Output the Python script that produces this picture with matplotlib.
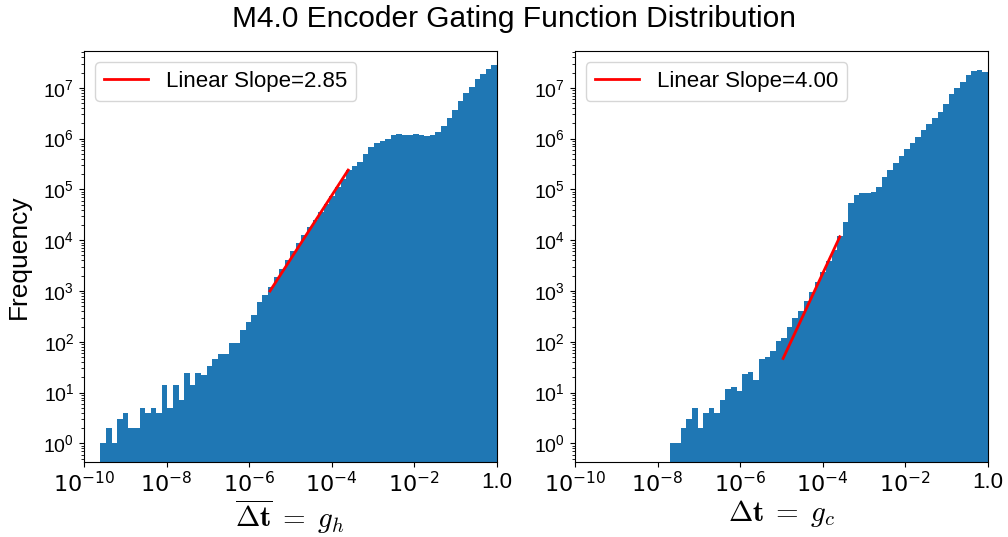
import numpy as np
import matplotlib
matplotlib.use("Agg")
import matplotlib.pyplot as plt

plt.rcParams['font.family'] = ['Liberation Sans', 'DejaVu Sans']
plt.rcParams['mathtext.fontset'] = 'dejavusans'

# shared log-spaced bin edges (71 bins from 10^-9.6 to 1)
bin_edges = np.logspace(-9.6, 0, 72)

# counts per bin
counts_h = [1, 2, 1, 3, 4, 2, 2, 5, 4, 5,
            4, 14, 5, 14, 7, 24, 14, 24, 22, 33,
            46, 58, 58, 93, 93, 172, 240, 340, 610, 845,
            1200, 1870, 2770, 4050, 6200, 8700, 12600, 17800, 25000, 36500,
            50500, 74000, 110000, 160000, 240000, 288000, 350000, 490000, 675000, 805000,
            890000, 975000, 1170000, 1230000, 1180000, 1200000, 1260000, 1200000, 1140000, 1170000,
            1320000, 1740000, 2500000, 3600000, 5600000, 7800000, 10200000, 14800000, 18600000, 23000000,
            28000000]

counts_c = [0, 0, 0, 0, 0, 0, 0, 0, 0, 0,
            0, 0, 0, 0, 1, 1, 2, 3, 5, 2,
            4, 5, 4, 7, 12, 13, 11, 23, 26, 18,
            45, 50, 66, 103, 120, 198, 288, 400, 630, 935,
            1515, 2400, 3870, 6400, 12000, 22700, 54600, 77000, 84500, 85000,
            87000, 112000, 178000, 240000, 325000, 455000, 620000, 810000, 1090000, 1450000,
            1920000, 2500000, 3400000, 4900000, 7400000, 9800000, 13200000, 17800000, 21000000, 22000000,
            20500000]

# fitted line endpoints
fit_h_x = [3.2e-6, 2.5e-4]
fit_h_y = [1.0e3, 2.4e5]
fit_c_x = [1.1e-5, 2.6e-4]
fit_c_y = [47, 11700]

slope_h = 2.85
slope_c = 4.00

xticks = [1e-10, 1e-8, 1e-6, 1e-4, 1e-2, 1.0]
xticklabels = [r'$10^{-10}$', r'$10^{-8}$', r'$10^{-6}$', r'$10^{-4}$', r'$10^{-2}$', '1.0']

xlabels = [r'$\overline{\mathbf{\Delta t}}\;=\;g_h$', r'$\mathbf{\Delta t}\;=\;g_c$']

fig, axes = plt.subplots(1, 2, figsize=(10.08, 5.37), dpi=100)
fig.subplots_adjust(left=0.0833, right=0.980, bottom=0.140, top=0.905, wspace=0.189)

centers = np.sqrt(bin_edges[:-1] * bin_edges[1:])
data = [(counts_h, fit_h_x, fit_h_y, slope_h), (counts_c, fit_c_x, fit_c_y, slope_c)]

for i, (ax, (cnt, fx, fy, sl)) in enumerate(zip(axes, data)):
    ax.hist(centers, bins=bin_edges, weights=cnt, color='#1f77b4', log=True)
    ax.plot(fx, fy, color='red', linewidth=2, label='Linear Slope=%.2f' % sl)
    ax.set_xscale('log')
    ax.set_yscale('log')
    ax.set_xlim(1e-10, 1.0)
    ax.set_ylim(0.434, 5.3e7)
    ax.set_xticks(xticks)
    ax.set_xticklabels(xticklabels, fontsize=16)
    ax.xaxis.set_minor_locator(matplotlib.ticker.NullLocator())
    ax.tick_params(axis='y', labelsize=14)
    ax.set_xlabel(xlabels[i], fontsize=21, math_fontfamily='cm', labelpad=1)
    ax.legend(loc='upper left', fontsize=16)

axes[0].set_ylabel('Frequency', fontsize=19, labelpad=9)
fig.suptitle('M4.0 Encoder Gating Function Distribution', fontsize=21.5, x=0.51, y=0.99)

fig.savefig('out.png', dpi=100)
